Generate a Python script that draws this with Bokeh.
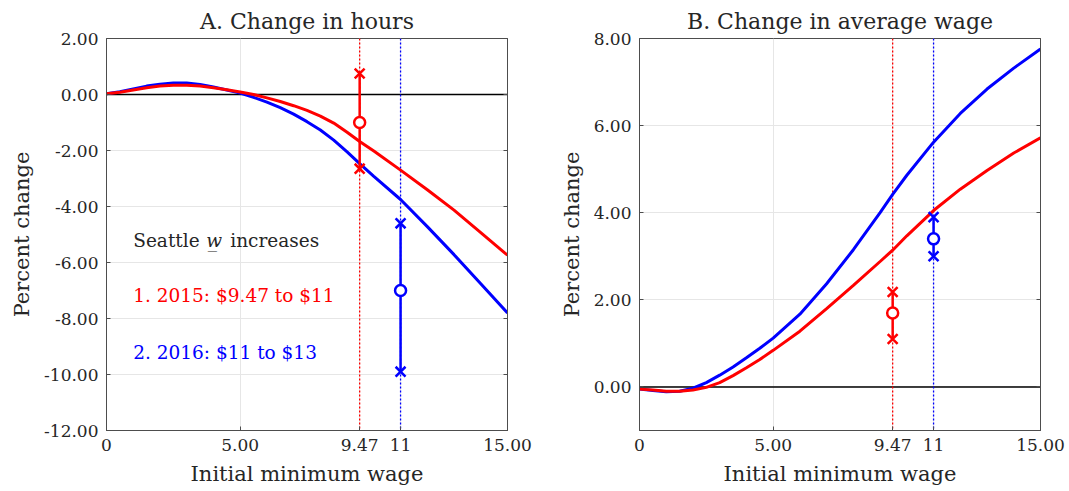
from bokeh.plotting import figure
from bokeh.layouts import row
from bokeh.models import (Span, FixedTicker, NumeralTickFormatter, LinearAxis,
                          Range1d, CustomJSTickFormatter)
from bokeh.embed import file_html
from bokeh.resources import INLINE
from bokeh.core.properties import value

# ---------------- data ----------------
# Panel A: change in hours (percent) vs initial minimum wage
hours_x = [0, 0.5, 1, 1.5, 2, 2.5, 3, 3.5, 4, 4.5, 5, 5.5, 6, 6.5, 7, 7.5, 8, 8.5, 9,
           9.47, 10, 11, 12, 13, 14, 15]
hours_2015 = [0.03, 0.08, 0.16, 0.24, 0.30, 0.33, 0.33, 0.30, 0.24, 0.17, 0.09, 0.0,
              -0.12, -0.25, -0.40, -0.57, -0.77, -1.02, -1.35, -1.68, -2.02, -2.70,
              -3.40, -4.13, -4.93, -5.74]
hours_2016 = [0.03, 0.10, 0.20, 0.30, 0.37, 0.41, 0.41, 0.36, 0.27, 0.16, 0.05, -0.10,
              -0.27, -0.47, -0.70, -0.97, -1.27, -1.63, -2.05, -2.47, -2.92, -3.75,
              -4.72, -5.72, -6.76, -7.80]

# Panel B: change in average wage (percent) vs initial minimum wage
wage_x = [0, 0.5, 1, 1.5, 2, 2.5, 3, 3.5, 4, 4.5, 5, 6, 7, 8, 9, 9.47, 10, 11, 12,
          13, 14, 15]
wage_2015 = [-0.05, -0.07, -0.10, -0.10, -0.07, -0.01, 0.10, 0.26, 0.44, 0.63, 0.84,
             1.28, 1.80, 2.33, 2.88, 3.14, 3.47, 4.05, 4.54, 4.97, 5.37, 5.72]
wage_2016 = [-0.05, -0.08, -0.11, -0.10, -0.03, 0.10, 0.27, 0.46, 0.67, 0.89, 1.12,
             1.67, 2.37, 3.15, 4.00, 4.42, 4.86, 5.62, 6.28, 6.84, 7.32, 7.76]

# Seattle estimates (2015 at $9.47, 2016 at $11)
event_wage = [9.47, 11]
event_colors = ["#ff0000", "#0000ff"]
hours_est = [-1.0, -7.0]
hours_low = [-2.65, -9.9]
hours_high = [0.75, -4.6]
avgwage_est = [1.7, 3.4]
avgwage_low = [1.1, 3.0]
avgwage_high = [2.18, 3.9]

x_ticks = [0, 5, 9.47, 11, 15]
x_tick_labels = ["0", "5.00", "9.47", "11", "15.00"]
hours_y_ticks = [-12, -10, -8, -6, -4, -2, 0, 2]
wage_y_ticks = [0, 2, 4, 6, 8]

titles = ["A. Change in hours", "B. Change in average wage"]
x_label = "Initial minimum wage"
y_label = "Percent change"
legend_head = ["Seattle", "w\u0332", "increases"]
legend_lines = ["1. 2015: $9.47 to $11", "2. 2016: $11 to $13"]

FONT = "DejaVu Serif"
TXT = "#262626"
AX = "#4d4d4d"


def make_fig(title, y_range, y_ticks, border_left, border_right):
    p = figure(frame_width=401, frame_height=392,
               x_range=Range1d(0, 15), y_range=Range1d(*y_range),
               output_backend="svg", toolbar_location=None,
               min_border_left=border_left, min_border_right=border_right,
               min_border_top=38, min_border_bottom=53, title=title)
    p.title.text_font = FONT
    p.title.text_font_size = "22px"
    p.title.text_font_style = "normal"
    p.title.text_color = TXT
    p.title.align = "center"
    p.title.standoff = 10

    xfmt = CustomJSTickFormatter(args=dict(tick_vals=x_ticks, tick_texts=x_tick_labels), code="""
        const i = tick_vals.findIndex(t => Math.abs(t - tick) < 1e-6);
        return i >= 0 ? tick_texts[i] : tick.toFixed(2);
    """)
    p.xaxis.ticker = FixedTicker(ticks=x_ticks)
    p.xaxis.formatter = xfmt
    p.yaxis.ticker = FixedTicker(ticks=y_ticks)
    p.yaxis.formatter = NumeralTickFormatter(format="0.00")
    p.xaxis.axis_label = x_label
    p.yaxis.axis_label = y_label

    right = LinearAxis(ticker=FixedTicker(ticks=y_ticks),
                       formatter=CustomJSTickFormatter(code="return '';"),
                       major_label_standoff=0)
    p.add_layout(right, "right")

    for ax in p.axis:
        ax.major_tick_in = 4
        ax.major_tick_out = 0
        ax.minor_tick_line_color = None
        ax.axis_line_color = AX
        ax.major_tick_line_color = AX
        ax.major_label_text_font = FONT
        ax.major_label_text_font_size = "17px"
        ax.major_label_text_color = TXT
        ax.axis_label_text_font = FONT
        ax.axis_label_text_font_size = "21px"
        ax.axis_label_text_font_style = "normal"
        ax.axis_label_text_color = TXT
    p.xaxis.major_label_standoff = 8
    p.xaxis.axis_label_standoff = 8
    p.yaxis.major_label_standoff = 8
    p.yaxis.axis_label_standoff = 7
    right.major_label_text_font_size = "1px"

    p.grid.grid_line_color = "#e6e6e6"
    p.grid.grid_line_width = 1
    p.outline_line_color = AX
    p.outline_line_width = 1
    p.background_fill_color = "white"
    p.border_fill_color = "white"

    # reference lines
    p.add_layout(Span(location=0, dimension="width", line_color="black",
                      line_width=1.4, level="underlay"))
    for xv, c in zip(event_wage, event_colors):
        p.add_layout(Span(location=xv, dimension="height", line_color=c,
                          line_width=1.3, line_dash="2 2", level="underlay"))
    return p


def add_estimates(p, est, low, high):
    p.segment(x0=event_wage, y0=low, x1=event_wage, y1=high,
              line_color=event_colors, line_width=2.5)
    p.scatter(event_wage, low, marker="x", size=14, line_color=event_colors, line_width=2.5)
    p.scatter(event_wage, high, marker="x", size=14, line_color=event_colors, line_width=2.5)
    p.scatter(event_wage, est, marker="circle", size=11, line_color=event_colors,
              fill_color="white", line_width=2.5)


# ---------------- panel A ----------------
p1 = make_fig(titles[0], (-12, 2), hours_y_ticks, 106, 33)
p1.line(hours_x, hours_2016, line_color=event_colors[1], line_width=3)
p1.line(hours_x, hours_2015, line_color=event_colors[0], line_width=3)
add_estimates(p1, hours_est, hours_low, hours_high)

ann_x = 1.0
ann_y = [-5.2, -7.17, -9.2]
p1.text(x=[ann_x], y=[ann_y[0]], text=[legend_head[0]], text_font=value(FONT),
        text_font_size="18.5px", text_color=TXT, text_baseline="alphabetic")
p1.text(x=[ann_x], y=[ann_y[0]], text=[legend_head[1]], text_font=value(FONT),
        text_font_size="18.5px", text_color=TXT, text_baseline="alphabetic",
        text_font_style="italic", x_offset=73)
p1.text(x=[ann_x], y=[ann_y[0]], text=[legend_head[2]], text_font=value(FONT),
        text_font_size="18.5px", text_color=TXT, text_baseline="alphabetic",
        x_offset=97)
p1.text(x=[ann_x, ann_x], y=ann_y[1:], text=legend_lines, text_font=value(FONT),
        text_font_size="18.5px", text_color=event_colors, text_baseline="alphabetic")

# ---------------- panel B ----------------
p2 = make_fig(titles[1], (-1, 8), wage_y_ticks, 99, 28)
p2.line(wage_x, wage_2016, line_color=event_colors[1], line_width=3)
p2.line(wage_x, wage_2015, line_color=event_colors[0], line_width=3)
add_estimates(p2, avgwage_est, avgwage_low, avgwage_high)

layout = row(p1, p2)
open("out.html", "w").write(file_html(layout, INLINE))
